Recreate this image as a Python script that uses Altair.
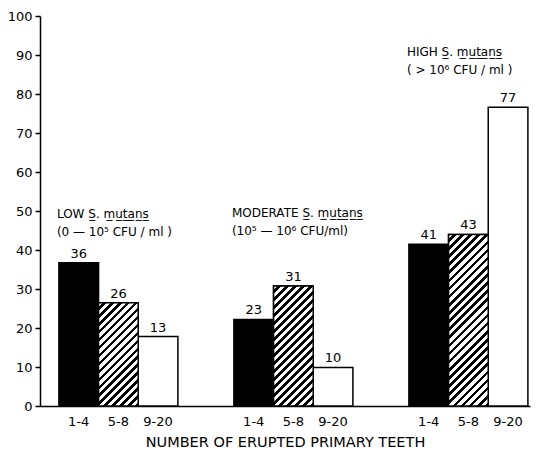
import altair as alt
import pandas as pd
import math

# ---- data ----
groups = ["LOW", "MODERATE", "HIGH"]
teeth = ["1-4", "5-8", "9-20"]
pct_low = [36.7, 26.5, 17.8]
pct_moderate = [22.2, 30.8, 9.9]
pct_high = [41.5, 44.0, 76.6]
n_low = [36, 26, 13]
n_moderate = [23, 31, 10]
n_high = [41, 43, 77]

ann_line1 = ["LOW  S\u0332.  m\u0332u\u0332t\u0332a\u0332n\u0332s\u0332",
             "MODERATE  S\u0332.  m\u0332u\u0332t\u0332a\u0332n\u0332s\u0332",
             "HIGH  S\u0332.  m\u0332u\u0332t\u0332a\u0332n\u0332s\u0332"]
ann_line2 = ["(0 \u2014 10\u2075 CFU / ml )", "(10\u2075 \u2014 10\u2076 CFU/ml)", "( > 10\u2076  CFU / ml )"]
ann_y = [49.2, 49.5, 90.8]

y_ticks = list(range(0, 101, 10))

# ---- build table ----
rows = []
for g, pcts, ns in zip(groups, [pct_low, pct_moderate, pct_high], [n_low, n_moderate, n_high]):
    for t, p, n in zip(teeth, pcts, ns):
        rows.append({"group": g, "teeth": t, "pct": p, "n": str(n)})
df = pd.DataFrame(rows)
ann = pd.DataFrame({"group": groups, "l1": ann_line1, "l2": ann_line2, "pct": ann_y})

W, H = 490, 390
PI, PO = 0.32, 0.06
FONT = "DejaVu Sans"

xscale = alt.Scale(domain=groups, paddingInner=PI, paddingOuter=PO, align=0.9)
xoff = alt.XOffset("teeth:N", sort=teeth, scale=alt.Scale(domain=teeth, paddingInner=0, paddingOuter=0))
yscale = alt.Scale(domain=[0, 100], nice=False, zero=True)

xaxis = alt.Axis(labels=False, ticks=False, domain=True, domainColor="black", domainWidth=1.5,
                 title="NUMBER OF ERUPTED PRIMARY TEETH", titleFont=FONT, titleFontSize=14.5,
                 titleFontWeight="normal", titleColor="black", titlePadding=29)
yaxis = alt.Axis(values=y_ticks, title=None, grid=False, domainColor="black", domainWidth=1.5,
                 tickColor="black", tickWidth=1.5, tickSize=5, labelFont=FONT, labelFontSize=13,
                 labelColor="black", labelPadding=3, labelOverlap=False, labelFlush=False)

X = alt.X("group:N", sort=groups, scale=xscale, axis=xaxis)
Y = alt.Y("pct:Q", scale=yscale, axis=yaxis)

base = alt.Chart(df)

bars = base.mark_bar(stroke="black", strokeWidth=1.5).encode(
    x=X, xOffset=xoff, y=Y,
    fill=alt.Fill("teeth:N", scale=alt.Scale(domain=teeth, range=["black", "white", "white"]), legend=None),
)

# hatched overlays (diagonal stripes via sharp-stop gradients)
step = W / (3 - PI + 2 * PO)
bar_w = step * (1 - PI) / 3
px_per_unit = H / 100.0
period = 5.7
layers = [bars]
for g, pcts in zip(groups, [pct_low, pct_moderate, pct_high]):
    h = pcts[1] * px_per_unit
    r = h / bar_w
    a = (1 + r) / (1 + r * r)
    n_per = max(1, round(((bar_w + h) / math.sqrt(2)) / period))
    stops = []
    for k in range(n_per):
        s = k / n_per
        m = (k + 0.55) / n_per
        e = (k + 1) / n_per
        stops += [alt.GradientStop(color="white", offset=s), alt.GradientStop(color="white", offset=m),
                  alt.GradientStop(color="black", offset=m), alt.GradientStop(color="black", offset=e)]
    grad = alt.LinearGradient(gradient="linear", stops=stops, x1=0, y1=0, x2=a, y2=a * r)
    hatch = base.transform_filter(
        (alt.datum.group == g) & (alt.datum.teeth == teeth[1])
    ).mark_bar(color=grad, stroke="black", strokeWidth=1.5).encode(x=X, xOffset=xoff, y=Y)
    layers.append(hatch)

counts = base.mark_text(font=FONT, fontSize=13, baseline="bottom", dy=-2, color="black").encode(
    x=X, xOffset=xoff, y=Y, text="n:N")

tick_labels = base.mark_text(font=FONT, fontSize=13, baseline="middle", color="black").encode(
    x=X, xOffset=xoff, y=alt.value(H + 16), text="teeth:N")

annb = alt.Chart(ann)
Xa = alt.X("group:N", sort=groups, scale=xscale, bandPosition=0, axis=xaxis)
ann1 = annb.mark_text(font=FONT, fontSize=12, align="left", baseline="middle", dx=-2, color="black").encode(
    x=Xa, y=Y, text="l1:N")
ann2 = annb.mark_text(font=FONT, fontSize=12, align="left", baseline="middle", dx=-2, dy=18, color="black").encode(
    x=Xa, y=Y, text="l2:N")

layers += [counts, tick_labels, ann1, ann2]

chart = alt.layer(*layers).properties(
    width=W, height=H,
    autosize=alt.AutoSizeParams(type="none"),
    padding={"left": 32, "top": 8, "right": 8, "bottom": 42},
    background="white",
).configure_view(stroke=None)

chart.save("out.html", embed_options={"renderer": "svg", "actions": False})
